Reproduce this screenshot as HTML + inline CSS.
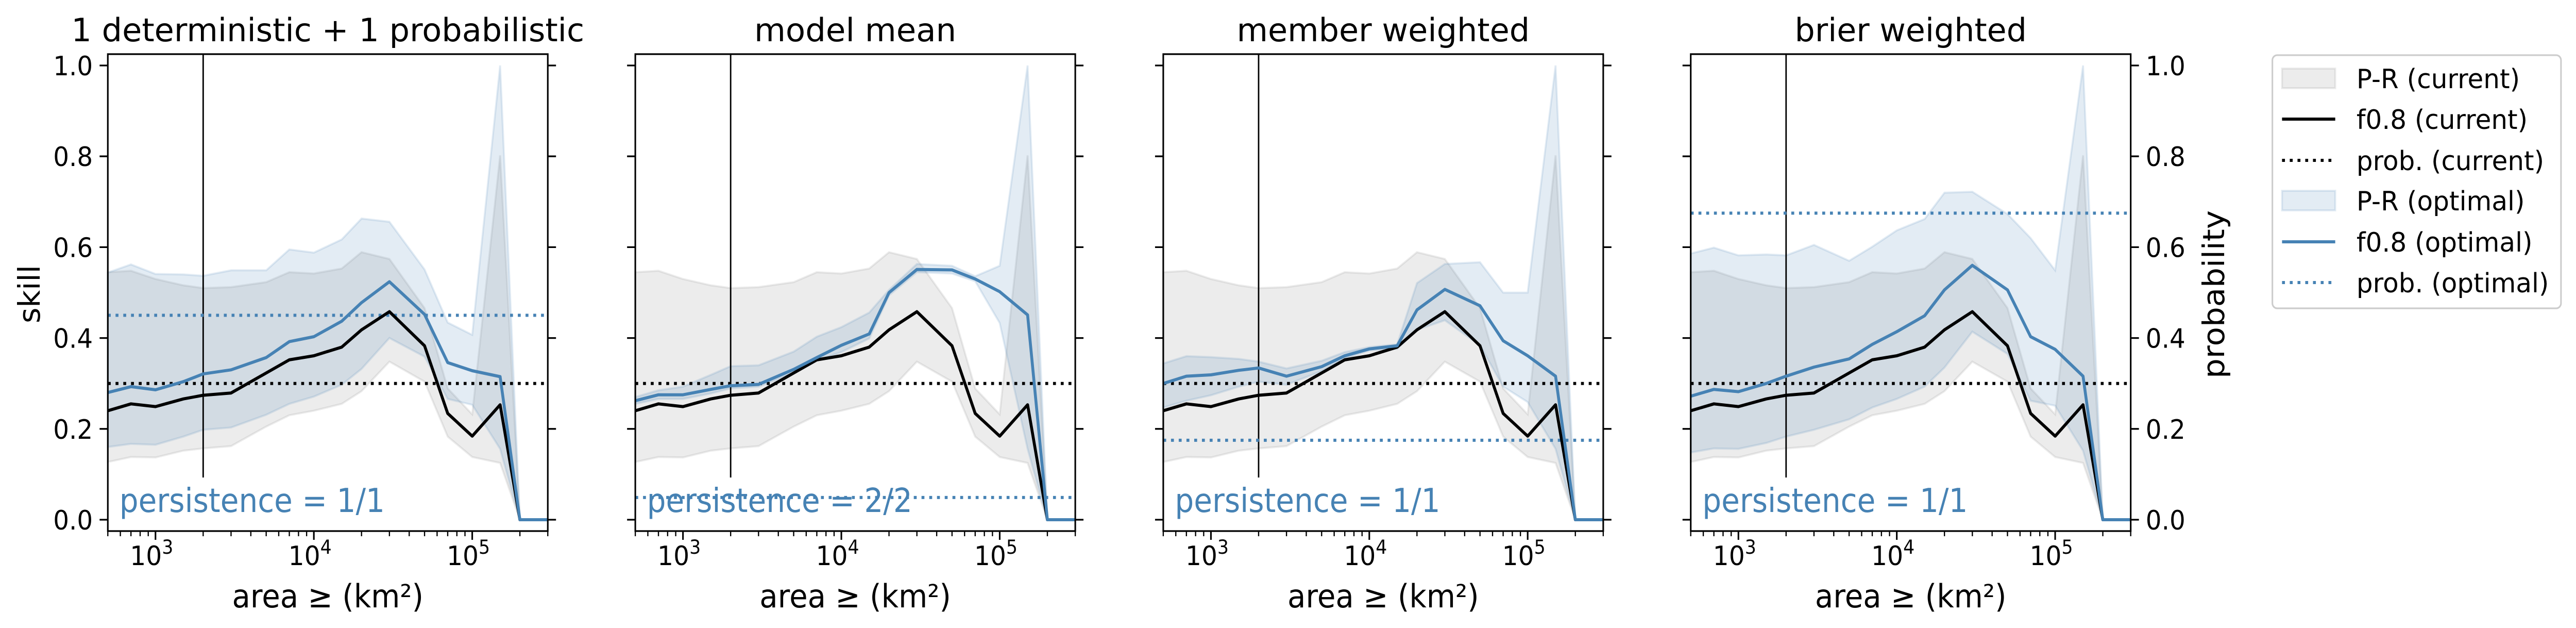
<!DOCTYPE html>
<html><head><meta charset="utf-8"><meta name="viewport" content="width=5328, initial-scale=1"><style>
html,body{margin:0;padding:0;background:#fff;overflow:hidden;}
svg{display:block;width:100vw;height:100vh;}
text{font-family:"DejaVu Sans","Liberation Sans",sans-serif;}
</style></head><body>
<svg id="fig" viewBox="0 0 5328 1218" preserveAspectRatio="none" xmlns="http://www.w3.org/2000/svg"></svg>
<script>
const areas = [500,700,1000,1500,2000,3000,5000,7000,10000,15000,20000,30000,50000,70000,100000,150000,200000,300000];
const titles = ["1 deterministic + 1 probabilistic","model mean","member weighted","brier weighted"];
const persistence = ["persistence = 1/1","persistence = 2/2","persistence = 1/1","persistence = 1/1"];
const curLine = [0.24,0.255,0.249,0.266,0.274,0.279,0.323,0.352,0.361,0.38,0.418,0.458,0.383,0.234,0.184,0.253,0,0];
const curUpper = [0.545,0.548,0.53,0.516,0.51,0.512,0.523,0.545,0.542,0.553,0.589,0.574,0.466,0.289,0.232,0.802,0,0];
const curLower = [0.127,0.138,0.137,0.152,0.157,0.162,0.205,0.23,0.24,0.255,0.283,0.348,0.304,0.183,0.138,0.125,0,0];
const curProb = 0.30;
const optLine1 = [0.28,0.293,0.286,0.304,0.321,0.33,0.357,0.392,0.403,0.437,0.478,0.524,0.452,0.346,0.328,0.315,0,0];
const optUpper1 = [0.544,0.562,0.541,0.54,0.537,0.549,0.549,0.595,0.588,0.617,0.663,0.656,0.551,0.434,0.407,1.0,0,0];
const optLower1 = [0.16,0.167,0.165,0.183,0.198,0.203,0.231,0.255,0.271,0.297,0.332,0.4,0.359,0.266,0.253,0.156,0,0];
const optLine2 = [0.262,0.275,0.275,0.287,0.295,0.298,0.331,0.357,0.384,0.409,0.5,0.551,0.55,0.53,0.502,0.451,0,0];
const optUpper2 = [0.27,0.285,0.293,0.319,0.338,0.34,0.37,0.403,0.424,0.456,0.506,0.563,0.559,0.536,0.559,1.0,0,0];
const optLower2 = [0.255,0.266,0.266,0.278,0.289,0.293,0.323,0.35,0.369,0.399,0.494,0.545,0.542,0.525,0.433,0.156,0,0];
const optLine3 = [0.3,0.316,0.319,0.329,0.334,0.316,0.337,0.361,0.376,0.383,0.462,0.507,0.471,0.394,0.361,0.316,0,0];
const optUpper3 = [0.344,0.36,0.358,0.354,0.348,0.333,0.35,0.369,0.38,0.386,0.521,0.563,0.567,0.5,0.5,1.0,0,0];
const optLower3 = [0.247,0.262,0.274,0.293,0.304,0.297,0.327,0.355,0.373,0.376,0.418,0.439,0.384,0.293,0.259,0.156,0,0];
const optLine4 = [0.272,0.287,0.282,0.3,0.316,0.336,0.354,0.386,0.414,0.449,0.506,0.56,0.506,0.403,0.375,0.316,0,0];
const optUpper4 = [0.586,0.599,0.582,0.584,0.582,0.605,0.57,0.601,0.637,0.662,0.72,0.722,0.673,0.62,0.549,1.0,0,0];
const optLower4 = [0.148,0.157,0.156,0.169,0.183,0.198,0.221,0.247,0.266,0.293,0.335,0.414,0.365,0.262,0.251,0.152,0,0];
const optProb = [0.45,0.049,0.175,0.675];
const yTicks = [0,0.2,0.4,0.6,0.8,1.0];
const yTickLabels = ["0.0","0.2","0.4","0.6","0.8","1.0"];
const xMajor = [1000,10000,100000];
const xMajorExp = ["3","4","5"];
const vlineX = 2000, vlineBottom = 0.093;
const legendLabels = ["P-R (current)","f0.8 (current)","prob. (current)","P-R (optimal)","f0.8 (optimal)","prob. (optimal)"];

const optLines=[optLine1,optLine2,optLine3,optLine4];
const optUppers=[optUpper1,optUpper2,optUpper3,optUpper4];
const optLowers=[optLower1,optLower2,optLower3,optLower4];
// measured text widths in the reference (px) to normalise font metrics
const titleW=[1061,418,606,480], legendW=[338,354,388,348,364,398];

const NS="http://www.w3.org/2000/svg";
const svg=document.getElementById('fig');
function mk(tag,attrs,parent){const e=document.createElementNS(NS,tag);for(const k in attrs)e.setAttribute(k,attrs[k]);(parent||svg).appendChild(e);return e;}
function fit(t,w){t.setAttribute('textLength',w);t.setAttribute('lengthAdjust','spacingAndGlyphs');}
const BLUE="#4682b4";
const PW=910, TOP=105, BOT=1030;
const lefts=[223,1314,2406,3497];
const XMIN=Math.log10(500), XMAX=Math.log10(300000);
const Y0=1008, Y1=127;
function yS(v){return Y0-(Y0-Y1)*v;}

for(let p=0;p<4;p++){
  const L=lefts[p];
  const xS=v=>L+(Math.log10(v)-XMIN)/(XMAX-XMIN)*PW;
  const g=mk('g',{});
  
  
  const band=(up,lo,fill,stroke,name)=>{
    let d='M'+areas.map((a,i)=>xS(a).toFixed(1)+','+yS(up[i]).toFixed(1)).join('L');
    for(let i=areas.length-1;i>=0;i--) d+='L'+xS(areas[i]).toFixed(1)+','+yS(lo[i]).toFixed(1);
    const e=mk('path',{d:d+'Z',fill:fill,'fill-opacity':0.15,stroke:stroke,'stroke-opacity':0.15,'stroke-width':4},g);
    
    
  };
  const line=(vals,col,name,w)=>{
    const d='M'+areas.map((a,i)=>xS(a).toFixed(1)+','+yS(vals[i]).toFixed(1)).join('L');
    const e=mk('path',{d:d,fill:'none',stroke:col,'stroke-width':w,'stroke-linejoin':'round'},g);
    
    
  };
  band(curUpper,curLower,'#808080','#808080','pr-band-current');
  band(optUppers[p],optLowers[p],BLUE,BLUE,'pr-band-optimal');
  const vl=mk('line',{x1:xS(vlineX),x2:xS(vlineX),y1:TOP,y2:yS(vlineBottom),stroke:'#000','stroke-width':3},g);
  
  
  const dl1=mk('line',{x1:L,x2:L+PW,y1:yS(curProb),y2:yS(curProb),stroke:'#000','stroke-width':6,'stroke-dasharray':'6 10'},g);
  
  
  const dl2=mk('line',{x1:L,x2:L+PW,y1:yS(optProb[p]),y2:yS(optProb[p]),stroke:BLUE,'stroke-width':6,'stroke-dasharray':'6 10'},g);
  
  
  line(curLine,'#000','f08-current-line',6);
  line(optLines[p],BLUE,'f08-optimal-line',6);
  const pt=mk('text',{x:L+24,y:993,'font-size':64,fill:BLUE},g);
  pt.textContent=persistence[p];
  
  
  fit(pt,549);
  const sp=mk('rect',{x:L,y:TOP,width:PW,height:BOT-TOP,fill:'none',stroke:'#000','stroke-width':3.3},g);
  
  
  yTicks.forEach((t,i)=>{
    mk('line',{x1:L-17,x2:L,y1:yS(t),y2:yS(t),stroke:'#000','stroke-width':3.3},g);
    mk('line',{x1:L+PW,x2:L+PW+17,y1:yS(t),y2:yS(t),stroke:'#000','stroke-width':3.3},g);
    if(p===0){
      const tl=mk('text',{x:L-113,y:yS(t)+19,'font-size':52},g);
      tl.textContent=yTickLabels[i];
      
      
      fit(tl,82);
    }
    if(p===3){
      const tl=mk('text',{x:L+PW+31,y:yS(t)+19,'font-size':52},g);
      tl.textContent=yTickLabels[i];
      
      
      fit(tl,82);
    }
  });
  for(let e=2;e<=5;e++)for(let m=1;m<10;m++){
    const v=m*Math.pow(10,e);
    if(v<500||v>300000)continue;
    const major=(m===1);
    mk('line',{x1:xS(v),x2:xS(v),y1:BOT,y2:BOT+(major?17:10),stroke:'#000','stroke-width':major?3.3:2.5},g);
  }
  xMajor.forEach((v,i)=>{
    const tl=mk('text',{x:xS(v)-8,y:1096,'font-size':52,'text-anchor':'middle'},g);
    
    
    tl.appendChild(document.createTextNode('10'));
    const s=mk('tspan',{'font-size':37,dy:-22},tl);
    s.textContent=xMajorExp[i];
  });
  const xl=mk('text',{x:L+PW/2-198,y:1178,'font-size':62},g);
  xl.textContent='area ≥ (km²)';
  
  
  fit(xl,396);
  const tt=mk('text',{x:L+PW/2-titleW[p]/2,y:80,'font-size':62},g);
  tt.textContent=titles[p];
  
  
  fit(tt,titleW[p]);
}
const yl=mk('text',{x:-56,y:0,'font-size':62,transform:'translate(82,571) rotate(-90)'});
yl.textContent='skill';


fit(yl,113);
const yl2=mk('text',{x:-163,y:0,'font-size':62,transform:'translate(4600,571) rotate(-90)'});
yl2.textContent='probability';


fit(yl2,326);

const lg=mk('g',{});


mk('rect',{x:4700,y:107,width:597,height:491,rx:10,fill:'#fff',stroke:'#cccccc','stroke-width':3.3},lg);
const ly=[152,231,311,389,469,548];
legendLabels.forEach((lab,i)=>{
  const y=ly[i];
  const col=i<3?'#000':BLUE;
  const kind=i%3;
  if(kind===0){
    mk('rect',{x:4720,y:y-19,width:110,height:38,fill:i<3?'#808080':BLUE,'fill-opacity':0.15,stroke:i<3?'#808080':BLUE,'stroke-opacity':0.15,'stroke-width':4},lg);
  }else if(kind===1){
    mk('line',{x1:4720,x2:4830,y1:y,y2:y,stroke:col,'stroke-width':6},lg);
  }else{
    mk('line',{x1:4720,x2:4830,y1:y,y2:y,stroke:col,'stroke-width':6,'stroke-dasharray':'6 10'},lg);
  }
  const t=mk('text',{x:4874,y:y+19,'font-size':52},lg);
  t.textContent=lab;
  
  
  fit(t,legendW[i]);
});
</script>
</body></html>
